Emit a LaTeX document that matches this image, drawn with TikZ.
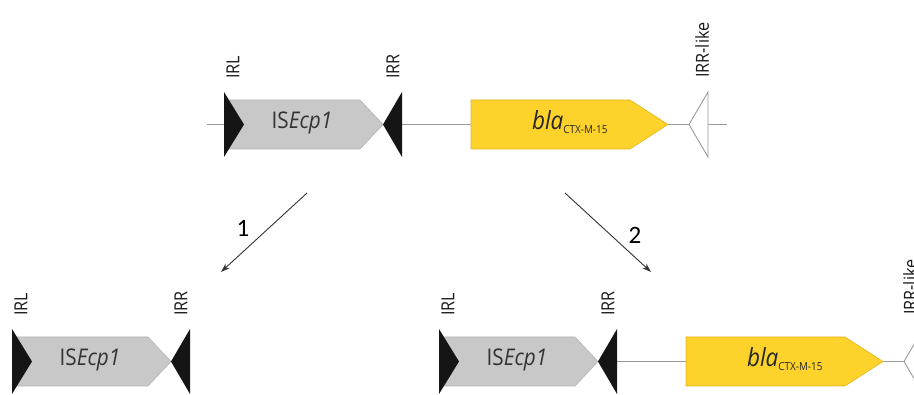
\documentclass[tikz,border=0pt]{standalone}
\usepackage{fontspec}
\setmainfont{Open Sans}[FakeStretch=0.9]
\newfontfamily\numfont{Carlito}
\usetikzlibrary{arrows.meta}
\definecolor{isgray}{HTML}{C8C8C8}
\definecolor{isgrayd}{HTML}{B4B4B4}
\definecolor{blay}{HTML}{FDD22B}
\definecolor{blayd}{HTML}{E6B422}
\definecolor{dnagray}{HTML}{9A9A9A}
\definecolor{irblack}{HTML}{151515}
\definecolor{arrowc}{HTML}{333333}
\tikzset{
  irtri/.style={fill=irblack, draw=none},
  hollowtri/.style={fill=white, draw=dnagray, line width=0.9pt, line join=miter},
  isbox/.style={fill=isgray, draw=isgrayd, line width=0.6pt},
  blabox/.style={fill=blay, draw=blayd, line width=0.6pt},
  dna/.style={draw=dnagray, line width=0.9pt},
  lbl/.style={rotate=90, anchor=west, inner sep=0pt, text=black!90, font=\fontsize{18}{18}\selectfont},
  istext/.style={anchor=base, inner sep=0pt, text=black!80, font=\fontsize{23}{23}\selectfont},
  blatext/.style={anchor=base, inner sep=0pt, text=black!85, font=\fontsize{25}{25}\selectfont},
  steparrow/.style={draw=arrowc, line width=0.9pt, -{Stealth[length=9pt,width=6pt]}},
  numlbl/.style={inner sep=0pt, text=black, font=\numfont\fontsize{25}{25}\selectfont}
}
\begin{document}
\begin{tikzpicture}[x=1pt,y=-1pt]
\clip (0,0) rectangle (914,395);
\fill[white] (0,0) rectangle (914,395);

% ---------- top row ----------
\begin{scope}
  \draw[dna] (207,124.5) -- (727,124.5);
  \path[isbox] (228,100) -- (360,100) -- (383,124.5) -- (360,149) -- (228,149) -- cycle;
  \path[irtri] (224,92) -- (244,124.5) -- (224,157) -- cycle;
  \path[irtri] (402,92) -- (383,124.5) -- (402,157) -- cycle;
  \path[blabox] (471,100) -- (630,100) -- (668,124.5) -- (630,149) -- (471,149) -- cycle;
  \path[hollowtri] (708,92) -- (689,124.5) -- (708,157) -- cycle;
  \node[istext] (isT) at (302,129) {IS\textit{Ecp1}};
  \node[blatext] (blaT) at (570,130) {\textit{bla}\textsubscript{\fontsize{11}{11}\selectfont CTX-M-15}};
  \node[lbl] (irlT) at (233,79) {IRL};
  \node[lbl] (irrT) at (393,79) {IRR};
  \node[lbl] (irrlT) at (702,78) {IRR-like};
\end{scope}

% ---------- arrows ----------
\coordinate (a1s) at (307,193);
\coordinate (a1e) at (221,272);
\coordinate (a2s) at (565,193);
\coordinate (a2e) at (651,272);
\draw[steparrow] (a1s) -- (a1e);
\draw[steparrow] (a2s) -- (a2e);
\node[numlbl] (n1) at (243,228) {1};
\node[numlbl] (n2) at (635,235) {2};

% ---------- bottom left ----------
\begin{scope}[shift={(-212,237)}]
  \path[isbox] (228,100) -- (360,100) -- (383,124.5) -- (360,149) -- (228,149) -- cycle;
  \path[irtri] (224,92) -- (244,124.5) -- (224,157) -- cycle;
  \path[irtri] (402,92) -- (383,124.5) -- (402,157) -- cycle;
  \node[istext] (isL) at (302,129) {IS\textit{Ecp1}};
  \node[lbl] (irlL) at (233,79) {IRL};
  \node[lbl] (irrL) at (393,79) {IRR};
\end{scope}

% ---------- bottom right ----------
\begin{scope}[shift={(215,237)}]
  \draw[dna] (402,124.5) -- (760,124.5);
  \path[isbox] (228,100) -- (360,100) -- (383,124.5) -- (360,149) -- (228,149) -- cycle;
  \path[irtri] (224,92) -- (244,124.5) -- (224,157) -- cycle;
  \path[irtri] (402,92) -- (383,124.5) -- (402,157) -- cycle;
  \path[blabox] (471,100) -- (630,100) -- (668,124.5) -- (630,149) -- (471,149) -- cycle;
  \path[hollowtri] (708,92) -- (689,124.5) -- (708,157) -- cycle;
  \node[istext] (isR) at (302,129) {IS\textit{Ecp1}};
  \node[blatext] (blaR) at (570,130) {\textit{bla}\textsubscript{\fontsize{11}{11}\selectfont CTX-M-15}};
  \node[lbl] (irlR) at (233,79) {IRL};
  \node[lbl] (irrR) at (393,79) {IRR};
  \node[lbl] (irrlR) at (695,78) {IRR-like};
\end{scope}
\end{tikzpicture}
\end{document}
